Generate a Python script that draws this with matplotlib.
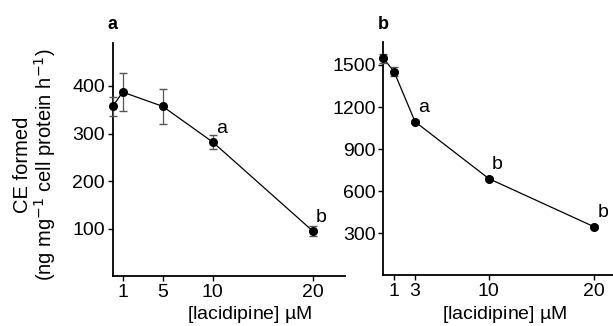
import matplotlib.pyplot as plt

plt.rcParams['font.family'] = ['Liberation Sans', 'DejaVu Sans']
plt.rcParams['font.size'] = 14

# panel a
conc_a = [0, 1, 5, 10, 20]
ce_a = [357, 387, 357, 282, 95]
err_a = [20, 40, 37, 14, 10]
sig_a = ['', '', '', 'a', 'b']
ticks_a = [1, 5, 10, 20]
yticks_a = [100, 200, 300, 400]

# panel b
conc_b = [0, 1, 3, 10, 20]
ce_b = [1547, 1452, 1095, 690, 347]
err_b = [30, 30, 12, 12, 10]
sig_b = ['', '', 'a', 'b', 'b']
ticks_b = [1, 3, 10, 20]
yticks_b = [300, 600, 900, 1200, 1500]

fig = plt.figure(figsize=(6.13, 3.26), dpi=100)
ax_a = fig.add_axes([0.1838, 0.152, 0.379, 0.716])
ax_b = fig.add_axes([0.6256, 0.155, 0.3744, 0.717])


def draw(ax, x, y, err, sig, xt, yt, ylim, xlim, off):
    ax.errorbar(x, y, yerr=err, fmt='o', color='black', ms=5.5, lw=0.9,
                ecolor='#555555', elinewidth=0.9, capsize=3, clip_on=False, zorder=3)
    ax.plot(x, y, color='black', lw=0.9, zorder=2)
    for xi, yi, s in zip(x, y, sig):
        if s:
            ax.text(xi + 0.3, yi + off, s, ha='left', va='bottom')
    ax.set_xticks(xt)
    ax.set_yticks(yt)
    ax.set_xlim(*xlim)
    ax.set_ylim(*ylim)
    for side in ['top', 'right']:
        ax.spines[side].set_visible(False)
    for side in ['left', 'bottom']:
        ax.spines[side].set_linewidth(1.3)
    ax.tick_params(direction='out', length=3.5, width=1, pad=2)
    ax.set_xlabel('[lacidipine] µ$\\mathregular{M}$')


draw(ax_a, conc_a, ce_a, err_a, sig_a, ticks_a, yticks_a, (0, 490), (0, 23.2), 10)
draw(ax_b, conc_b, ce_b, err_b, sig_b, ticks_b, yticks_b, (0, 1665), (0, 21.8), 40)

ax_a.xaxis.set_label_coords(0.59, -0.12)
ax_b.xaxis.set_label_coords(0.526, -0.12)

# y label as two lines placed by hand
fig.text(0.036, 0.494, 'CE formed', rotation=90, ha='center', va='center', fontsize=14.5)
fig.text(0.074, 0.494, '(ng mg$^{-1}$ cell protein h$^{-1}$)', rotation=90,
         ha='center', va='center', fontsize=14.5)

fig.text(0.1838, 0.925, 'a', fontweight='bold', ha='center', va='center', fontsize=13)
fig.text(0.625, 0.925, 'b', fontweight='bold', ha='center', va='center', fontsize=13)

fig.savefig('out.png', dpi=100)
